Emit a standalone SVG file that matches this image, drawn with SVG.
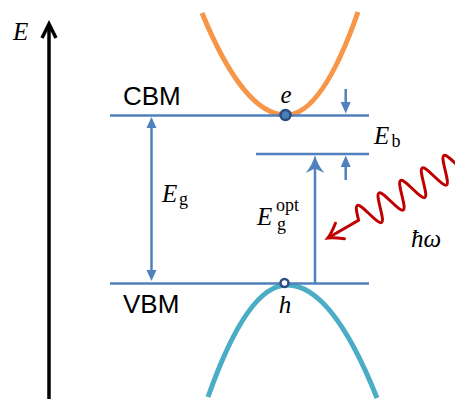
<svg xmlns="http://www.w3.org/2000/svg" width="455" height="399" viewBox="0 0 455 399">
<style>
.lvl{stroke:#4F81BD;stroke-width:2.5;fill:none}
.arr{stroke:#4F81BD;stroke-width:2.5;fill:none}
.ah{fill:#4F81BD;stroke:none}
.sans{font-family:"Liberation Sans",Arial,sans-serif;font-size:26px;fill:#000}
.m{font-family:"Liberation Serif","Times New Roman",serif;font-style:italic;font-size:25px;fill:#000}
.r{font-family:"Liberation Serif","Times New Roman",serif;font-size:18px;fill:#000}
.band{fill:none;stroke-width:5;stroke-linecap:butt}
</style>
<rect width="455" height="399" fill="#fff"/>
<g id="axis">
<line x1="49" y1="399" x2="49" y2="25" stroke="#000" stroke-width="3.5"/>
<polyline points="42,38 49,24 56,38" fill="none" stroke="#000" stroke-width="3.5" stroke-linejoin="miter"/>
<text class="m" x="13" y="40" font-size="26">E</text>
</g>
<g id="conduction-band">
<path class="band" stroke="#F79646" d="M202,13 Q244,115 286,115 Q322,115 358,12"/>
</g>
<g id="valence-band">
<path class="band" stroke="#4BACC6" d="M208,397 Q247.5,285 287,285 Q332,285 377,398"/>
</g>
<g id="cbm">
<line class="lvl" x1="110" y1="115.5" x2="369" y2="115.5"/>
<text class="sans" x="123" y="105">CBM</text>
</g>
<g id="vbm">
<line class="lvl" x1="110" y1="283.5" x2="369" y2="283.5"/>
<text class="sans" x="123" y="313">VBM</text>
</g>
<g id="exciton-level">
<line class="lvl" x1="256" y1="154" x2="369" y2="154"/>
</g>
<g id="electron">
<circle cx="285.5" cy="115" r="5" fill="#4A7EBB" stroke="#2C4D80" stroke-width="2.5"/>
<text class="m" x="286" y="103" text-anchor="middle">e</text>
</g>
<g id="hole">
<circle cx="284.5" cy="283" r="4" fill="#fff" stroke="#2C4D80" stroke-width="2.5"/>
<text class="m" x="285" y="313" text-anchor="middle">h</text>
</g>
<g id="connectors">
<g id="eg-arrow">
<line class="arr" x1="151.5" y1="127" x2="151.5" y2="271"/>
<polygon class="ah" points="151.5,117 146.5,128 156.5,128"/>
<polygon class="ah" points="151.5,281 146.5,270 156.5,270"/>
</g>
<g id="egopt-arrow">
<line class="arr" x1="315" y1="284" x2="315" y2="166"/>
<path class="ah" d="M315,155 Q318,166 324.5,173 L315,168.5 L305.5,173 Q312,166 315,155 Z"/>
</g>
<g id="eb-arrows">
<line class="arr" x1="345.7" y1="89" x2="345.7" y2="104"/>
<polygon class="ah" points="345.7,113.5 340.7,102 350.7,102"/>
<line class="arr" x1="345.7" y1="180" x2="345.7" y2="165"/>
<polygon class="ah" points="345.7,155.5 340.7,167 350.7,167"/>
</g>
<g id="photon" transform="translate(456,164) rotate(150)">
<path fill="none" stroke="#C00000" stroke-width="3" stroke-linecap="round" d="M0,0
c2.04,6.92 3.99,13.5 6.25,13.5 c2.26,0 4.21,-6.58 6.25,-13.5 c2.04,-6.92 3.99,-13.5 6.25,-13.5 c2.26,0 4.21,6.58 6.25,13.5
c2.04,6.92 3.99,13.5 6.25,13.5 c2.26,0 4.21,-6.58 6.25,-13.5 c2.04,-6.92 3.99,-13.5 6.25,-13.5 c2.26,0 4.21,6.58 6.25,13.5
c2.04,6.92 3.99,13.5 6.25,13.5 c2.26,0 4.21,-6.58 6.25,-13.5 c2.04,-6.92 3.99,-13.5 6.25,-13.5 c2.26,0 4.21,6.58 6.25,13.5
c2.04,6.92 3.99,13.5 6.25,13.5 c2.26,0 4.21,-6.58 6.25,-13.5 c2.04,-6.92 3.99,-13.5 6.25,-13.5 c2.26,0 4.21,6.58 6.25,13.5
c2.04,6.92 3.99,13.5 6.25,13.5 c2.26,0 4.21,-6.58 6.25,-13.5 L147,0"/>
<path fill="none" stroke="#C00000" stroke-width="3" stroke-linecap="round" d="M134,-9 Q143,-2 148,0 Q143,2 134,9"/>
</g>
</g>
<g id="labels">
<text class="m" x="162" y="202">E</text><text class="r" x="179" y="205">g</text>
<text class="m" x="257" y="225">E</text><text class="r" x="276" y="211" font-size="19">opt</text><text class="r" x="277" y="230">g</text>
<text class="m" x="374" y="144">E</text><text class="r" x="391.5" y="147" font-size="19">b</text>
<text class="m" x="411" y="247" font-size="23">ħω</text>
</g>
</svg>
